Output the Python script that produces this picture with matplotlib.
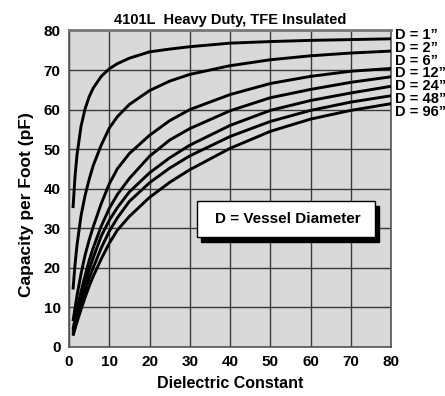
import matplotlib
matplotlib.use("Agg")
import matplotlib.pyplot as plt
from matplotlib.patches import Rectangle

# dielectric constant sample points
eps = [1, 1.5, 2, 3, 4, 5, 6, 8, 10, 12, 15, 20, 25, 30, 40, 50, 60, 70, 80]

# capacity per foot (pF) for each vessel diameter
d1 = [35.1, 43.1, 48.6, 55.8, 60.2, 63.2, 65.4, 68.4, 70.3, 71.6, 73.0, 74.6,
      75.3, 75.9, 76.8, 77.2, 77.5, 77.7, 77.9]
d2 = [14.5, 20.8, 25.8, 33.2, 38.3, 42.3, 45.8, 51.0, 55.3, 58.2, 61.3, 64.8,
      67.2, 68.9, 71.1, 72.6, 73.6, 74.3, 74.8]
d6 = [6.5, 9.8, 13.0, 18.5, 23.2, 27.0, 30.3, 36.2, 41.2, 45.0, 48.9, 53.5,
      57.2, 60.0, 63.8, 66.6, 68.4, 69.7, 70.4]
d12 = [4.5, 7.0, 9.5, 14.0, 18.0, 21.8, 25.0, 30.5, 35.0, 38.5, 42.6, 48.2,
       52.3, 55.2, 59.7, 63.0, 65.1, 66.9, 68.3]
d24 = [3.8, 6.0, 8.2, 12.3, 16.0, 19.5, 22.5, 28.0, 32.0, 35.2, 39.2, 44.0,
       47.8, 51.0, 56.0, 59.8, 62.3, 64.2, 65.9]
d48 = [3.2, 5.2, 7.2, 10.8, 14.2, 17.3, 20.0, 25.0, 29.2, 32.6, 36.8, 41.5,
       45.2, 48.3, 53.2, 57.0, 59.8, 61.9, 63.5]
d96 = [2.8, 4.6, 6.3, 9.5, 12.5, 15.3, 17.8, 22.2, 26.2, 29.5, 33.0, 37.8,
       41.6, 44.8, 50.2, 54.5, 57.6, 59.8, 61.5]

series = [d1, d2, d6, d12, d24, d48, d96]
labels = ['D = 1\u201d', 'D = 2\u201d', 'D = 6\u201d', 'D = 12\u201d',
          'D = 24\u201d', 'D = 48\u201d', 'D = 96\u201d']

plt.rcParams['font.family'] = ['Liberation Sans', 'DejaVu Sans']
plt.rcParams['font.weight'] = 'bold'

fig = plt.figure(figsize=(4.45, 3.96), dpi=100)
ax = fig.add_axes([0.155, 0.124, 0.724, 0.799])
ax.set_facecolor('#d9d9d9')

for ys in series:
    ax.plot(eps, ys, color='black', lw=2.1, solid_capstyle='butt',
            solid_joinstyle='round', zorder=3)

ax.set_xlim(0, 80)
ax.set_ylim(0, 80)
ax.set_xticks(range(0, 81, 10))
ax.set_yticks(range(0, 81, 10))
ax.grid(True, color='#3a3a3a', lw=1.0, zorder=1)
ax.set_axisbelow(True)
ax.tick_params(length=0, labelsize=11, pad=6)
for lab in ax.get_xticklabels() + ax.get_yticklabels():
    lab.set_fontweight('bold')
for s in ax.spines.values():
    s.set_color('#555555')
    s.set_linewidth(1.2)
ax.spines['top'].set_linewidth(2.0)
ax.spines['top'].set_color('#777777')

ax.set_xlabel('Dielectric Constant', fontsize=11.5, fontweight='bold', labelpad=5)
ax.set_ylabel('Capacity per Foot (pF)', fontsize=12.5, fontweight='bold')
ax.yaxis.set_label_coords(-0.11, 0.45)
ax.set_title('4101L  Heavy Duty, TFE Insulated', fontsize=10.5, fontweight='bold', pad=5)

# right side labels
for i, lab in enumerate(labels):
    fig.text(395 / 445, 1 - (35 + 12.8 * i) / 396, lab, fontsize=10.5,
             fontweight='bold', va='center', ha='left')

# legend-like box with drop shadow
ax.add_patch(Rectangle((32.8, 26.5), 44.1, 9.0, facecolor='black',
                       edgecolor='black', zorder=4))
ax.add_patch(Rectangle((31.8, 27.8), 44.1, 9.0, facecolor='white',
                       edgecolor='black', lw=1.0, zorder=5))
ax.text(54.3, 32.3, 'D = Vessel Diameter', fontsize=11, fontweight='bold',
        ha='center', va='center', zorder=6)

fig.savefig('out.png', dpi=100)
